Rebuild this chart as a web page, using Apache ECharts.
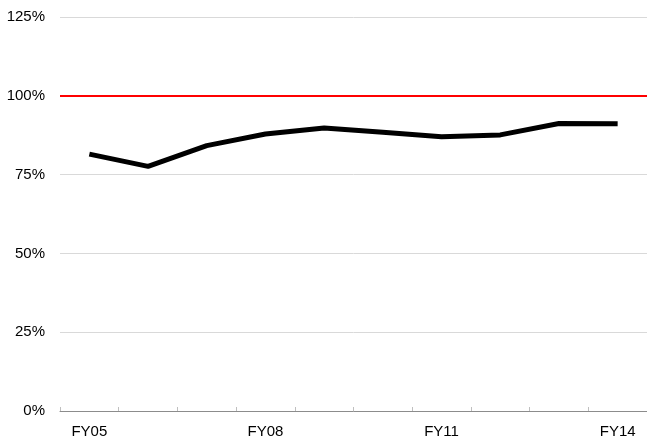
<!DOCTYPE html>
<html>
<head>
<meta charset="utf-8">
<script src="https://cdn.jsdelivr.net/npm/echarts@6/dist/echarts.min.js"></script>
<style>
  html, body { margin: 0; padding: 0; background: #fff; }
  #chart { width: 647px; height: 441px; }
</style>
</head>
<body>
<div id="chart"></div>
<script>
// 数据
const categories = ['FY05', 'FY06', 'FY07', 'FY08', 'FY09', 'FY10', 'FY11', 'FY12', 'FY13', 'FY14']
const ratioValues = [81.5, 77.6, 84.2, 87.9, 89.8, 88.4, 87.0, 87.6, 91.2, 91.1]
const targetLevel = 100
const yTicks = [0, 25, 50, 75, 100, 125]

const chart = echarts.init(document.getElementById('chart'))

const option = {
  animation: false,
  grid: { left: 60, right: 0, top: 17, bottom: 30 },
  xAxis: {
    type: 'category',
    data: categories,
    boundaryGap: true,
    axisLine: { lineStyle: { color: '#8c8c8c', width: 1 } },
    axisTick: { show: true, inside: true, length: 4, interval: 0, lineStyle: { color: '#bfbfbf' } },
    axisLabel: {
      interval: 2,
      color: '#000',
      fontFamily: 'Liberation Sans, Arial',
      fontSize: 15,
      margin: 13
    },
    splitLine: { show: false }
  },
  yAxis: {
    type: 'value',
    min: yTicks[0],
    max: yTicks[yTicks.length - 1],
    interval: 25,
    axisLine: { show: false },
    axisTick: { show: false },
    axisLabel: {
      formatter: '{value}%',
      color: '#000',
      fontFamily: 'Liberation Sans, Arial',
      fontSize: 15,
      margin: 15
    },
    splitLine: { lineStyle: { color: '#d9d9d9', width: 1 } }
  },
  series: [
    {
      type: 'line',
      data: ratioValues,
      symbol: 'none',
      lineStyle: { color: '#000', width: 5 },
      z: 3,
      markLine: {
        silent: true,
        symbol: ['none', 'none'],
        label: { show: false },
        lineStyle: { color: '#ff0000', width: 2, type: 'solid' },
        data: [{ yAxis: targetLevel }]
      }
    }
  ]
}

chart.setOption(option)
</script>
</body>
</html>
